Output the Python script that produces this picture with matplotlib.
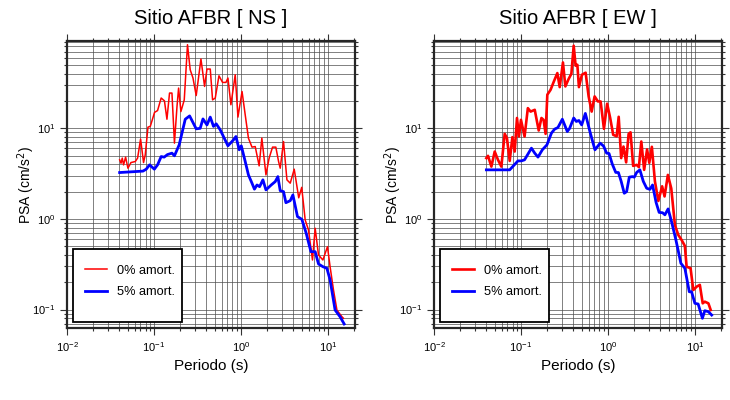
import matplotlib
matplotlib.use("Agg")
import matplotlib.pyplot as plt
from matplotlib.patches import Rectangle
from matplotlib.ticker import LogLocator, NullFormatter

plt.rcParams["font.family"] = ["Liberation Sans", "DejaVu Sans"]

# ---- NS component ----
ns_t0 = [0.0403, 0.0418, 0.0432, 0.0447, 0.0472, 0.0502, 0.0544, 0.0610, 0.0648, 0.0702,
         0.0759, 0.0794, 0.0853, 0.0907, 0.1016, 0.110, 0.121, 0.132, 0.141, 0.151,
         0.161, 0.172, 0.184, 0.192, 0.204, 0.223, 0.243, 0.261, 0.281, 0.306,
         0.347, 0.382, 0.407, 0.444, 0.472, 0.507, 0.559, 0.615, 0.673, 0.709,
         0.767, 0.860, 0.924, 1.03, 1.12, 1.22, 1.34, 1.46, 1.62, 1.74,
         1.94, 2.11, 2.31, 2.52, 2.71, 2.83, 3.09, 3.38, 3.69, 4.10,
         4.62, 5.00, 5.48, 5.98, 6.65, 7.14, 7.80, 8.76, 9.89, 10.6,
         11.6, 12.7, 14.5, 15.1]
ns_a0 = [4.49, 4.12, 4.69, 3.95, 4.81, 3.63, 4.19, 4.30, 4.69, 7.60,
         4.19, 5.10, 10.3, 10.5, 15.0, 15.7, 21.6, 20.1, 12.6, 24.5,
         24.5, 6.86, 17.4, 27.8, 15.3, 20.6, 83.7, 44.3, 35.9, 23.0,
         58.2, 29.0, 45.1, 45.1, 20.6, 21.6, 38.0, 32.1, 32.1, 35.9,
         18.2, 39.0, 13.3, 25.5, 14.1, 7.79, 6.20, 6.29, 3.85, 7.79,
         3.06, 4.69, 6.20, 6.20, 4.30, 3.63, 7.15, 2.70, 2.48, 3.54,
         1.71, 2.23, 0.975, 0.756, 0.352, 0.789, 0.400, 0.352, 0.494, 0.297,
         0.164, 0.0987, 0.0832, 0.080]
ns_t5 = [0.0403, 0.0747, 0.0815, 0.0890, 0.101, 0.110, 0.121, 0.131, 0.143, 0.161,
         0.172, 0.195, 0.229, 0.257, 0.306, 0.340, 0.366, 0.407, 0.444, 0.484,
         0.520, 0.578, 0.709, 0.822, 0.876, 0.956, 1.01, 1.12, 1.22, 1.34,
         1.43, 1.53, 1.64, 1.79, 1.94, 2.23, 2.48, 2.66, 2.83, 3.09,
         3.29, 3.69, 3.96, 4.47, 5.02, 5.63, 6.38, 7.14, 7.80, 8.76,
         9.74, 10.6, 12.1, 13.8, 15.4]
ns_a5 = [3.25, 3.37, 3.54, 3.95, 3.54, 3.95, 4.88, 4.81, 5.13, 5.32,
         4.97, 6.57, 12.6, 13.7, 9.87, 10.0, 12.7, 10.9, 13.3, 10.5,
         11.2, 9.62, 6.41, 7.46, 8.12, 5.79, 6.41, 4.30, 3.06, 2.48,
         2.13, 2.37, 2.27, 2.70, 2.09, 2.37, 2.58, 2.93, 2.05, 2.00,
         1.51, 1.59, 1.84, 1.06, 0.99, 0.695, 0.435, 0.435, 0.318, 0.297,
         0.285, 0.212, 0.0987, 0.0832, 0.0692]

# ---- EW component ----
ew_t0 = [0.040, 0.0418, 0.0457, 0.0499, 0.0544, 0.0595, 0.065, 0.069, 0.0742, 0.0797,
         0.0847, 0.090, 0.0948, 0.100, 0.110, 0.120, 0.129, 0.144, 0.160, 0.172,
         0.182, 0.192, 0.201, 0.219, 0.239, 0.262, 0.279, 0.304, 0.324, 0.353,
         0.380, 0.404, 0.425, 0.445, 0.464, 0.502, 0.554, 0.600, 0.650, 0.703,
         0.767, 0.824, 0.900, 0.979, 1.06, 1.15, 1.26, 1.33, 1.42, 1.51,
         1.62, 1.73, 1.82, 1.95, 2.14, 2.27, 2.42, 2.61, 2.82, 2.99,
         3.20, 3.47, 3.80, 4.20, 4.48, 4.89, 5.35, 5.89, 6.44, 7.03,
         7.67, 8.03, 8.92, 9.59, 10.5, 11.4, 12.3, 13.0, 14.3, 15.2]
ew_a0 = [4.69, 4.97, 3.78, 5.54, 4.49, 3.78, 8.69, 7.79, 4.37, 7.99,
         5.54, 13.0, 8.12, 12.4, 8.12, 16.7, 15.3, 16.0, 9.46, 13.0,
         12.4, 8.69, 23.5, 26.6, 32.9, 40.7, 28.5, 53.3, 29.0, 35.0,
         40.0, 81.6, 49.1, 50.3, 28.5, 39.0, 41.1, 22.5, 15.3, 22.5,
         19.8, 19.8, 9.87, 18.7, 13.1, 8.48, 8.16, 13.4, 4.69, 6.29,
         4.21, 8.69, 9.03, 3.85, 3.95, 3.73, 7.15, 3.48, 5.86, 4.16,
         6.25, 2.60, 1.58, 2.29, 1.77, 3.06, 2.17, 0.859, 0.666, 0.586,
         0.503, 0.297, 0.285, 0.164, 0.179, 0.187, 0.117, 0.122, 0.117, 0.0987]
ew_t5 = [0.040, 0.0742, 0.0924, 0.101, 0.110, 0.132, 0.144, 0.157, 0.176, 0.199,
         0.224, 0.244, 0.266, 0.299, 0.341, 0.363, 0.404, 0.433, 0.464, 0.499,
         0.550, 0.624, 0.709, 0.814, 0.892, 0.966, 1.03, 1.12, 1.23, 1.32,
         1.42, 1.54, 1.64, 1.76, 1.91, 2.01, 2.14, 2.33, 2.55, 2.79,
         3.04, 3.26, 3.58, 3.88, 4.25, 4.52, 4.92, 5.40, 6.05, 6.90,
         7.67, 8.62, 9.16, 10.0, 10.9, 12.2, 13.0, 14.3, 15.6]
ew_a5 = [3.48, 3.48, 4.37, 4.37, 4.49, 6.04, 5.32, 4.81, 5.79, 6.57,
         8.85, 9.80, 10.2, 12.6, 9.22, 10.0, 13.0, 11.9, 12.2, 10.9,
         14.6, 9.03, 5.79, 6.86, 6.36, 5.32, 5.27, 4.05, 3.26, 3.25,
         2.60, 1.92, 2.00, 2.89, 2.93, 2.89, 3.26, 3.48, 2.60, 2.18,
         2.12, 2.37, 1.52, 1.18, 1.17, 1.11, 1.29, 0.927, 0.586, 0.324,
         0.285, 0.157, 0.157, 0.117, 0.115, 0.080, 0.097, 0.0946, 0.0869]

titles = ["Sitio AFBR [ NS ]", "Sitio AFBR [ EW ]"]
labels = ["0% amort.", "5% amort."]


def panel(ax, t0, a0, t5, a5, title, red_lw):
    ax.set_xscale("log")
    ax.set_yscale("log")
    ax.set_xlim(0.01, 20.5)
    ax.set_ylim(0.0625, 92)
    ax.plot(t0, a0, color="red", lw=red_lw, label=labels[0], zorder=3)
    ax.plot(t5, a5, color="blue", lw=2.0, label=labels[1], zorder=4)
    ax.xaxis.set_major_locator(LogLocator(base=10, numticks=10))
    ax.xaxis.set_minor_locator(LogLocator(base=10, subs=range(2, 10), numticks=20))
    ax.yaxis.set_major_locator(LogLocator(base=10, numticks=10))
    ax.yaxis.set_minor_locator(LogLocator(base=10, subs=range(2, 10), numticks=20))
    ax.xaxis.set_minor_formatter(NullFormatter())
    ax.yaxis.set_minor_formatter(NullFormatter())
    ax.grid(True, which="both", color="0.3", lw=0.5)
    ax.tick_params(which="both", direction="out", top=True, right=True,
                   labelsize=8, width=0.8, color="0.2")
    ax.tick_params(which="major", length=5)
    ax.tick_params(which="minor", length=2.5)
    for s in ax.spines.values():
        s.set_linewidth(1.6)
        s.set_color("0.15")
    ax.set_title(title, fontsize=14.5, pad=12)
    ax.set_xlabel("Periodo (s)", fontsize=11)
    ax.set_ylabel("PSA (cm/s$^2$)", fontsize=10)
    ax.yaxis.set_label_coords(-0.103, 0.5)
    # legend: box drawn by hand so the padding matches
    box = Rectangle((0.021, 0.021), 0.378, 0.254, transform=ax.transAxes,
                    facecolor="white", edgecolor="black", lw=1.3, zorder=5)
    ax.add_patch(box)
    leg = ax.legend(loc="center left", bbox_to_anchor=(0.0625, 0.162), fontsize=9.2,
                    frameon=False, borderpad=0, borderaxespad=0,
                    handlelength=1.72, handletextpad=0.8, labelspacing=0.72)
    leg.set_zorder(6)


fig = plt.figure(figsize=(7.3, 4.0), dpi=100)
ax1 = fig.add_axes([67 / 730, 1 - 328 / 400, 288 / 730, 287 / 400])
ax2 = fig.add_axes([434 / 730, 1 - 328 / 400, 288 / 730, 287 / 400])
panel(ax1, ns_t0, ns_a0, ns_t5, ns_a5, titles[0], 1.1)
panel(ax2, ew_t0, ew_a0, ew_t5, ew_a5, titles[1], 1.9)
fig.savefig("out.png", dpi=100)
